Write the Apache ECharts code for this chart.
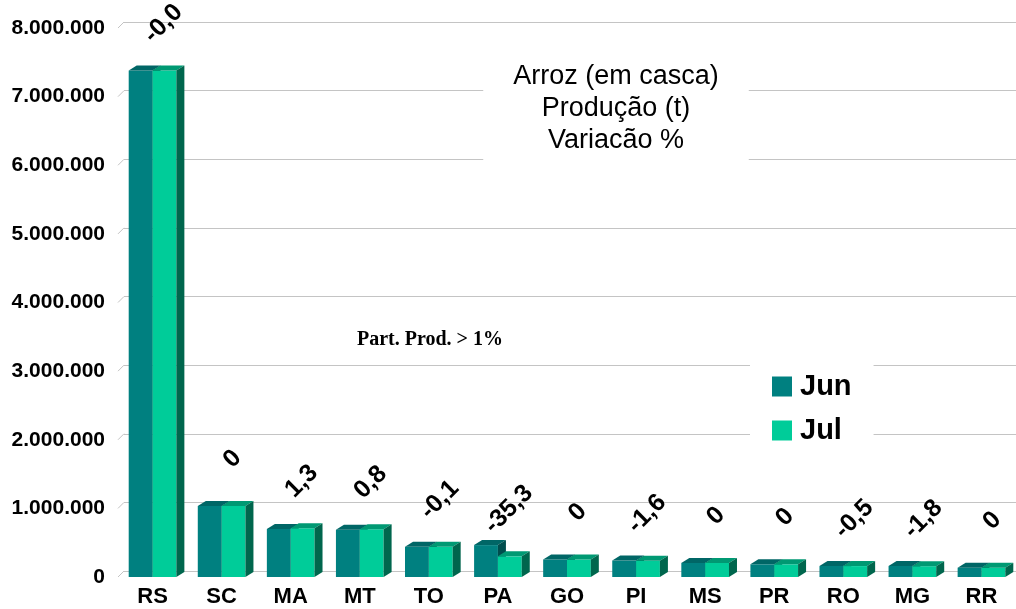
<!DOCTYPE html>
<html>
<head>
<meta charset="utf-8">
<title>Arroz (em casca)</title>
<script src="https://cdn.jsdelivr.net/npm/echarts@6/dist/echarts.min.js"></script>
<style>
  html, body { margin: 0; padding: 0; background: #fff; }
  #chart { width: 1016px; height: 609px; }
</style>
</head>
<body>
<div id="chart"></div>
<script>
// dados
const categorias = ['RS', 'SC', 'MA', 'MT', 'TO', 'PA', 'GO', 'PI', 'MS', 'PR', 'RO', 'MG', 'RR'];
const jun = [7380000, 1035000, 700000, 690000, 440000, 465000, 255000, 240000, 205000, 185000, 160000, 160000, 135000];
const jul = [7380000, 1035000, 709000, 696000, 440000, 301000, 255000, 236000, 205000, 185000, 159000, 157000, 135000];
const variacao = ['-0,0', '0', '1,3', '0,8', '-0,1', '-35,3', '0', '-1,6', '0', '0', '-0,5', '-1,8', '0'];
const yTicks = [0, 1000000, 2000000, 3000000, 4000000, 5000000, 6000000, 7000000, 8000000];

const FONT = 'Arial, "Liberation Sans", sans-serif';
const DX = 8, DY = -5; // profundidade das barras 3D

// cores: frente, topo, lado
const cores = [
  { front: '#008080', top: '#006666', side: '#004d4d' },
  { front: '#00cc99', top: '#009973', side: '#00664d' }
];

function fmt(v) {
  return String(v).replace(/\B(?=(\d{3})+(?!\d))/g, '.');
}

function barra(s) {
  return function (params, api) {
    const ci = api.value(0);
    const v = api.value(1);
    const base = api.coord([ci, 0]);
    const topo = api.coord([ci, v]);
    const bw = api.size([1, 0])[0] * 0.345;
    const x1 = s === 0 ? base[0] - bw : base[0];
    const x2 = x1 + bw;
    const yb = base[1], yt = topo[1];
    const c = cores[s];
    const children = [
      { type: 'rect', shape: { x: x1, y: yt, width: bw, height: yb - yt }, style: { fill: c.front } },
      { type: 'polygon', shape: { points: [[x1, yt], [x1 + DX, yt + DY], [x2 + DX, yt + DY], [x2, yt]] }, style: { fill: c.top } },
      { type: 'polygon', shape: { points: [[x2, yb], [x2 + DX, yb + DY], [x2 + DX, yt + DY], [x2, yt]] }, style: { fill: c.side } }
    ];
    if (s === 1) {
      children.push({
        type: 'text',
        x: x1 + bw / 2 - 1,
        y: yt - 47,
        rotation: Math.PI / 4,
        style: {
          text: variacao[ci],
          fill: '#000',
          fontSize: 25,
          fontWeight: 'bold',
          fontFamily: FONT,
          align: 'center',
          verticalAlign: 'middle'
        }
      });
    }
    return { type: 'group', children: children };
  };
}

const chart = echarts.init(document.getElementById('chart'));
chart.setOption({
  animation: false,
  backgroundColor: '#fff',
  title: [
    {
      text: 'Arroz (em casca)\nProdução (t)\nVariacão %',
      left: 586,
      top: 55,
      textAlign: 'center',
      padding: [6, 30, 8, 30],
      backgroundColor: '#fff',
      textStyle: { fontFamily: FONT, fontSize: 27, fontWeight: 'normal', color: '#000', lineHeight: 32 }
    },
    {
      text: 'Part. Prod. > 1%',
      left: 357,
      top: 330,
      padding: 0,
      textStyle: { fontFamily: '"Liberation Serif", "Times New Roman", serif', fontSize: 20, fontWeight: 'bold', color: '#000' }
    }
  ],
  legend: {
    data: ['Jun', 'Jul'],
    orient: 'vertical',
    left: 750,
    top: 358,
    padding: [14, 22, 8, 22],
    backgroundColor: '#fff',
    itemWidth: 20,
    itemHeight: 20,
    itemGap: 15,
    icon: 'rect',
    textStyle: { fontFamily: FONT, fontSize: 29, fontWeight: 'bold', color: '#000', lineHeight: 20, padding: [0, 0, 0, 3] }
  },
  grid: [
    // plano frontal (barras e rótulos)
    { left: 118, right: -4, top: 28, bottom: 32 },
    // parede do fundo (linhas de grade)
    { left: 124, right: -12, top: 22, bottom: 38 }
  ],
  xAxis: [
    {
      gridIndex: 0,
      type: 'category',
      data: categorias,
      axisLine: { show: false },
      axisTick: { show: false },
      axisLabel: { fontFamily: FONT, fontSize: 22, fontWeight: 'bold', color: '#000', margin: 9 }
    },
    { gridIndex: 1, type: 'category', data: categorias, show: false }
  ],
  yAxis: [
    {
      gridIndex: 0,
      type: 'value',
      min: 0,
      max: 8000000,
      interval: 1000000,
      axisLine: { show: false },
      axisTick: { show: false },
      splitLine: { show: false },
      axisLabel: { fontFamily: FONT, fontSize: 21, fontWeight: 'bold', color: '#000', margin: 13, formatter: fmt }
    },
    {
      gridIndex: 1,
      type: 'value',
      min: 0,
      max: 8000000,
      interval: 1000000,
      axisLine: { show: false },
      axisTick: { show: false },
      axisLabel: { show: false },
      splitLine: { lineStyle: { color: '#c4c4c4', width: 1 } }
    }
  ],
  series: [
    {
      name: 'Ticks',
      type: 'custom',
      xAxisIndex: 0,
      yAxisIndex: 0,
      silent: true,
      data: yTicks.map(function (t) { return [0, t]; }),
      renderItem: function (params, api) {
        const p = api.coord([0, api.value(1)]);
        const x0 = params.coordSys.x;
        return {
          type: 'line',
          shape: { x1: x0, y1: p[1], x2: x0 + 6, y2: p[1] - 6 },
          style: { stroke: '#c4c4c4', lineWidth: 1 }
        };
      }
    },
    {
      name: 'Jun',
      type: 'custom',
      xAxisIndex: 0,
      yAxisIndex: 0,
      itemStyle: { color: cores[0].front },
      data: jun.map(function (v, i) { return [i, v]; }),
      renderItem: barra(0)
    },
    {
      name: 'Jul',
      type: 'custom',
      xAxisIndex: 0,
      yAxisIndex: 0,
      itemStyle: { color: cores[1].front },
      data: jul.map(function (v, i) { return [i, v]; }),
      renderItem: barra(1)
    }
  ]
});
</script>
</body>
</html>
